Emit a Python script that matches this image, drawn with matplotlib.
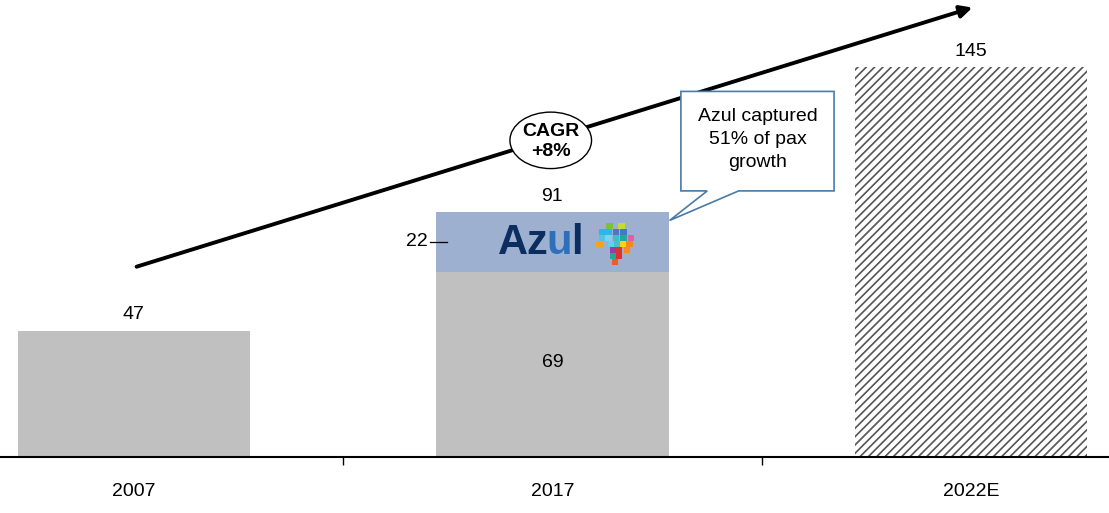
import numpy as np
import matplotlib.pyplot as plt
from matplotlib.patches import Ellipse, Polygon

plt.rcParams['font.family'] = ['Liberation Sans', 'DejaVu Sans']
plt.rcParams['hatch.linewidth'] = 1.2

years = ['2007', '2017', '2022E']
base_vals = [47, 69, 0]
azul_vals = [0, 22, 0]
forecast_vals = [0, 0, 145]
totals = [47, 91, 145]
cagr_text = 'CAGR\n+8%'
callout_text = 'Azul captured\n51% of pax\ngrowth'

# logo mosaic cells (column, row) on a small grid, with colours
mosaic_col = [1.7, 3.7, 0.5, 1.5, 2.8, 4.0, 0.5, 1.5, 2.8, 4.0, 5.3, 0.0, 1.9, 2.9, 4.0, 5.0, 2.3, 3.3, 4.6, 2.3, 3.3, 2.6]
mosaic_row = [0, 0, 1, 1, 1, 1, 2, 2, 2, 2, 2, 3, 3, 3, 3, 3, 4, 4, 4, 5, 5, 6]
mosaic_c = ['#7ac143', '#c6d93b', '#2fb6e9', '#2fb6e9', '#5b6fc6', '#3e7cc9',
            '#4fc3e8', '#7ad3e9', '#3bc0c9', '#1fa9a0', '#e05fa8',
            '#f3a31b', '#66ccf0', '#4cc0c6', '#f7d21e', '#f08a1c',
            '#8e3fa8', '#e0312f', '#f68b1f', '#1fa99a', '#e0302d', '#ef5a26']

grey = '#c0c0c0'
azul_col = '#9db0d0'
fs = 14

fig = plt.figure(figsize=(11.09, 5.13), dpi=100)
ax = fig.add_axes([0, 0.109, 1, 0.891])
x = np.arange(len(years))
w = 0.555

ax.bar(x, base_vals, width=w, color=grey, zorder=2)
ax.bar(x, azul_vals, width=w, bottom=base_vals, color=azul_col, zorder=2)
ax.bar(x, forecast_vals, width=w, color='white', edgecolor='#555555',
       hatch='////', linewidth=0, zorder=2)

for xi, t in zip(x, totals):
    ax.text(xi, t + 6, str(t), ha='center', va='center', fontsize=fs)
ax.text(x[1], base_vals[1] / 2 + 0.5, str(base_vals[1]), ha='center', va='center', fontsize=fs)
mid22 = base_vals[1] + azul_vals[1] / 2
ax.text(x[1] - w / 2 - 0.02, mid22, str(azul_vals[1]), ha='right', va='center', fontsize=fs)
ax.plot([x[1] - w / 2 - 0.015, x[1] - w / 2 + 0.025], [mid22, mid22], color='black', lw=0.9, zorder=4)

# Azul logo
lx, ly = x[1] - 0.01, mid22 - 0.5
ax.text(lx, ly, 'Az', ha='right', va='center', fontsize=30, fontweight='bold', color='#0b2d5f', zorder=4)
ax.text(lx - 0.005, ly, 'u', ha='left', va='center', fontsize=30, fontweight='bold', color='#2e6fba', zorder=4)
ax.text(lx + 0.054, ly, 'l', ha='left', va='center', fontsize=30, fontweight='bold', color='#0b2d5f', zorder=4)
px_x, px_y = 1 / 418.5, 1 / 2.69
mx0, my0 = x[1] + 47 * px_x, mid22 + 16 * px_y
ax.scatter(mx0 + np.array(mosaic_col) * 6 * px_x, my0 - np.array(mosaic_row) * 6 * px_y,
           marker='s', s=22, c=mosaic_c, zorder=4, linewidths=0)

# CAGR arrow
ax.annotate('', xy=(2.01, 167.5), xytext=(0.0, 70.5),
            arrowprops=dict(arrowstyle='-|>', color='black', lw=2.8, mutation_scale=18), zorder=3)
ax.add_patch(Ellipse((0.996, 117.8), 0.195, 21, facecolor='white', edgecolor='black', lw=1.0, zorder=5))
ax.text(0.996, 117.5, cagr_text, ha='center', va='center', fontsize=fs, fontweight='bold',
        linespacing=1.25, zorder=6)

# callout box
bx0, bx1, by0, by1 = 1.307, 1.673, 99, 136
tip = (1.28, 88)
ax.add_patch(Polygon([(bx0, by0), (bx0, by1), (bx1, by1), (bx1, by0), (1.445, by0), tip, (1.37, by0)],
                     closed=True, facecolor='white', edgecolor='#4a7aa8', lw=1.2, zorder=5))
ax.text((bx0 + bx1) / 2, (by0 + by1) / 2 + 0.5, callout_text, ha='center', va='center', fontsize=fs,
        linespacing=1.45, zorder=6)

ax.set_xlim(-0.32, 2.33)
ax.set_ylim(0, 170)
ax.set_yticks([])
ax.set_xticks(x)
ax.set_xticklabels(years, fontsize=fs)
ax.set_xticks([0.5, 1.5], minor=True)
ax.tick_params(axis='x', which='major', length=0, pad=19)
ax.tick_params(axis='x', which='minor', length=6, width=1, direction='out')
for s in ['top', 'left', 'right']:
    ax.spines[s].set_visible(False)
ax.spines['bottom'].set_linewidth(1.5)

fig.savefig('out.png', dpi=100)
